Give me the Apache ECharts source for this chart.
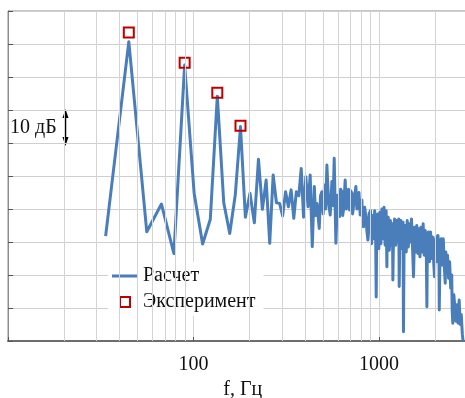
<!DOCTYPE html>
<html>
<head>
<meta charset="utf-8">
<title>Спектр</title>
<script src="https://cdn.jsdelivr.net/npm/echarts@6/dist/echarts.min.js"></script>
<style>
  html, body { margin: 0; padding: 0; background: #fff; }
  #main { width: 465px; height: 398px; }
</style>
</head>
<body>
<div id="main"></div>
<script>
// расчет: низкие частоты (гармоники), Гц / дБ
var lowFreqs = [
  33.6, 44.8, 56.0, 67.2, 78.4, 89.6, 100.8, 112.0, 123.2, 134.4,
  145.6, 156.8, 168.0, 179.2, 190.4, 201.6, 212.8, 224.0, 235.2, 246.4,
  257.6, 268.8, 280.0, 291.2, 302.4, 313.6, 324.8, 336.0, 347.2, 358.4,
  369.6, 380.8, 392.0, 403.2, 414.4, 425.6, 436.8
];
var lowLevels = [
  31.8, 90.7, 33.1, 41.5, 26.5, 83.6, 44.8, 29.4, 36.9, 74.2,
  41.9, 32.6, 44.3, 65.0, 37.5, 44.8, 35.8, 55.1, 39.9, 48.8,
  29.6, 50.3, 41.9, 41.7, 37.9, 45.2, 40.7, 45.8, 37.2, 45.2,
  44.0, 52.3, 37.5, 49.8, 40.7, 50.3, 28.6
];
// средние частоты
var midFreqs = [
  448, 455, 462.8, 476.2, 484, 492.2, 500, 508.4, 516, 523.8,
  534.3, 545.7, 557.3, 565, 573.5, 585.7, 597.4, 605, 612.4, 621,
  631, 637, 643.6, 657.4, 666, 676.4, 685, 693.4, 703, 714.3,
  721, 728.6, 739, 750.7, 760, 769.6, 780, 791.8, 800, 808.7,
  816, 824.9, 837, 850, 860, 871.4, 884
];
var midLevels = [
  46.8, 38.0, 41.7, 34.1, 44.0, 45.2, 38.5, 47.3, 40.0, 53.3,
  42.2, 38.2, 48.3, 41.0, 55.4, 29.6, 44.2, 39.0, 37.7, 46.0,
  45.2, 38.0, 39.7, 48.8, 40.0, 42.7, 46.0, 39.7, 45.5, 44.8,
  38.5, 40.7, 44.0, 46.8, 40.0, 43.3, 45.0, 38.2, 41.0, 42.7,
  36.0, 34.6, 40.5, 37.7, 33.5, 30.6, 38.5
];
// высокие частоты
var highFreqs = [
  900, 912, 924, 936, 948, 960, 966, 972, 985, 998,
  1011, 1024, 1037, 1051, 1065, 1079, 1093, 1103, 1107, 1122,
  1137, 1152, 1167, 1182, 1188, 1198, 1214, 1230, 1246, 1262,
  1279, 1285, 1296, 1313, 1330, 1348, 1355, 1366, 1384, 1402,
  1420, 1439, 1458, 1477, 1497, 1517, 1535, 1557, 1578, 1599,
  1620, 1641, 1663, 1685, 1707, 1730, 1753, 1776, 1799, 1812,
  1823, 1847, 1872, 1897, 1922, 1947, 1973, 1992, 2010, 2034,
  2052, 2079, 2107, 2113, 2135, 2163, 2192, 2221, 2250, 2275,
  2290, 2310, 2341, 2372, 2403, 2435, 2467, 2480, 2500, 2533,
  2566, 2600, 2635, 2670, 2705, 2741, 2777, 2814, 2840
];
var highLevels = [
  39.5, 29.5, 38.0, 31.0, 39.5, 30.0, 13.3, 33.0, 38.5, 28.0,
  39.0, 29.5, 40.0, 31.0, 40.5, 29.0, 39.5, 22.5, 34.0, 37.5,
  27.5, 36.5, 29.0, 35.5, 18.5, 33.0, 37.0, 29.0, 36.5, 30.0,
  37.0, 16.5, 33.0, 36.5, 28.0, 36.0, 2.8, 31.0, 35.0, 27.0,
  36.5, 28.5, 35.5, 30.0, 37.0, 28.0, 19.5, 34.5, 27.0, 35.0,
  26.5, 34.0, 25.5, 34.5, 27.0, 35.5, 26.0, 33.5, 27.5, 10.4,
  30.0, 33.0, 24.0, 33.0, 25.0, 31.5, 23.5, 19.5, 30.0, 31.6,
  24.0, 32.0, 25.0, 9.4, 28.0, 31.0, 23.0, 31.0, 22.5, 17.5,
  27.0, 24.0, 26.0, 19.0, 24.0, 16.0, 20.0, 9.4, 5.4, 14.0,
  10.0, 6.0, 11.0, 5.4, 12.4, 5.0, 8.0, 2.0, 0
];
// эксперимент
var expFreqs = [44.8, 89.6, 134.4, 179.2];
var expLevels = [93.5, 84.3, 75.2, 65.2];
// оси
var xMin = 10, xMax = 3000;
var xLabels = [100, 1000];
var minorGrid = [20, 30, 40, 50, 60, 70, 80, 90, 200, 300, 400, 500, 600, 700, 800, 900, 2000];

var serif = '"Liberation Serif", "Times New Roman", serif';
var myChart = echarts.init(document.getElementById('main'));

var freqs = lowFreqs.concat(midFreqs, highFreqs);
var levels = lowLevels.concat(midLevels, highLevels);
var lineData = [];
for (var i = 0; i < freqs.length; i++) lineData.push([freqs[i], levels[i]]);
var expData = [];
for (var j = 0; j < expFreqs.length; j++) expData.push([expFreqs[j], expLevels[j]]);

var option = {
  animation: false,
  backgroundColor: '#fff',
  grid: {
    left: 8, top: 11, width: 459.5, height: 330,
    outerBoundsMode: 'none', containLabel: false,
    show: true, borderColor: '#8c8c8c', borderWidth: 1
  },
  legend: {
    orient: 'vertical',
    left: 108, top: 262,
    padding: [4, 8, 4, 4],
    itemGap: 6,
    itemWidth: 26, itemHeight: 10,
    backgroundColor: '#fff',
    textStyle: { fontFamily: serif, fontSize: 20, color: '#111' },
    data: [
      { name: 'Расчет', icon: 'path://M0,0H26V3H0Z' },
      { name: 'Эксперимент', icon: 'path://M0,0H10V10H0Z',
        itemStyle: { color: 'rgba(255,255,255,0)', borderColor: '#c00000', borderWidth: 2 } }
    ]
  },
  xAxis: {
    type: 'log', logBase: 10, min: xMin, max: xMax,
    name: 'f, Гц', nameLocation: 'middle', nameGap: 39,
    nameTextStyle: { fontFamily: serif, fontSize: 20, color: '#111', padding: [0, 0, 0, 10] },
    axisLine: { lineStyle: { color: '#6e6e6e', width: 2 } },
    axisTick: { inside: true, length: 4, lineStyle: { color: '#555' } },
    axisLabel: {
      margin: 14, fontFamily: serif, fontSize: 20, color: '#111',
      formatter: function (v) { return xLabels.indexOf(Math.round(v)) >= 0 ? String(Math.round(v)) : ''; }
    },
    splitLine: { show: true, lineStyle: { color: '#d4d4d4', width: 1 } }
  },
  yAxis: {
    type: 'value', min: 0, max: 100, interval: 10,
    axisLine: { show: true, lineStyle: { color: '#8c8c8c' } },
    axisTick: { show: true, inside: true, length: 5, lineStyle: { color: '#555' } },
    axisLabel: { show: false },
    splitLine: { lineStyle: { color: '#cfcfcf', width: 1 } }
  },
  graphic: [
    { type: 'text', left: 10, top: 118,
      style: { text: '10 дБ', font: '20px ' + serif, fill: '#111' } },
    { type: 'line', shape: { x1: 65.5, y1: 114, x2: 65.5, y2: 141 },
      style: { stroke: '#000', lineWidth: 1.5 } },
    { type: 'polygon', shape: { points: [[65.5, 109], [62.5, 118], [68.5, 118]] }, style: { fill: '#000' } },
    { type: 'polygon', shape: { points: [[65.5, 146], [62.5, 137], [68.5, 137]] }, style: { fill: '#000' } }
  ],
  series: [
    {
      name: 'grid', type: 'line', data: [], z: 1, silent: true,
      markLine: {
        silent: true, symbol: ['none', 'none'], label: { show: false },
        lineStyle: { color: '#d4d4d4', width: 1, type: 'solid' },
        data: minorGrid.map(function (v) { return { xAxis: v }; })
      }
    },
    {
      name: 'Расчет', type: 'line', data: lineData, z: 3,
      symbol: 'none', showSymbol: false,
      itemStyle: { color: '#4a7ebb' },
      lineStyle: { color: '#4a7ebb', width: 3, join: 'round' }
    },
    {
      name: 'Эксперимент', type: 'scatter', data: expData, z: 4,
      symbol: 'rect', symbolSize: 10,
      itemStyle: { color: 'rgba(255,255,255,0)', borderColor: '#c00000', borderWidth: 2, opacity: 1 }
    }
  ]
};
myChart.setOption(option);
</script>
</body>
</html>
